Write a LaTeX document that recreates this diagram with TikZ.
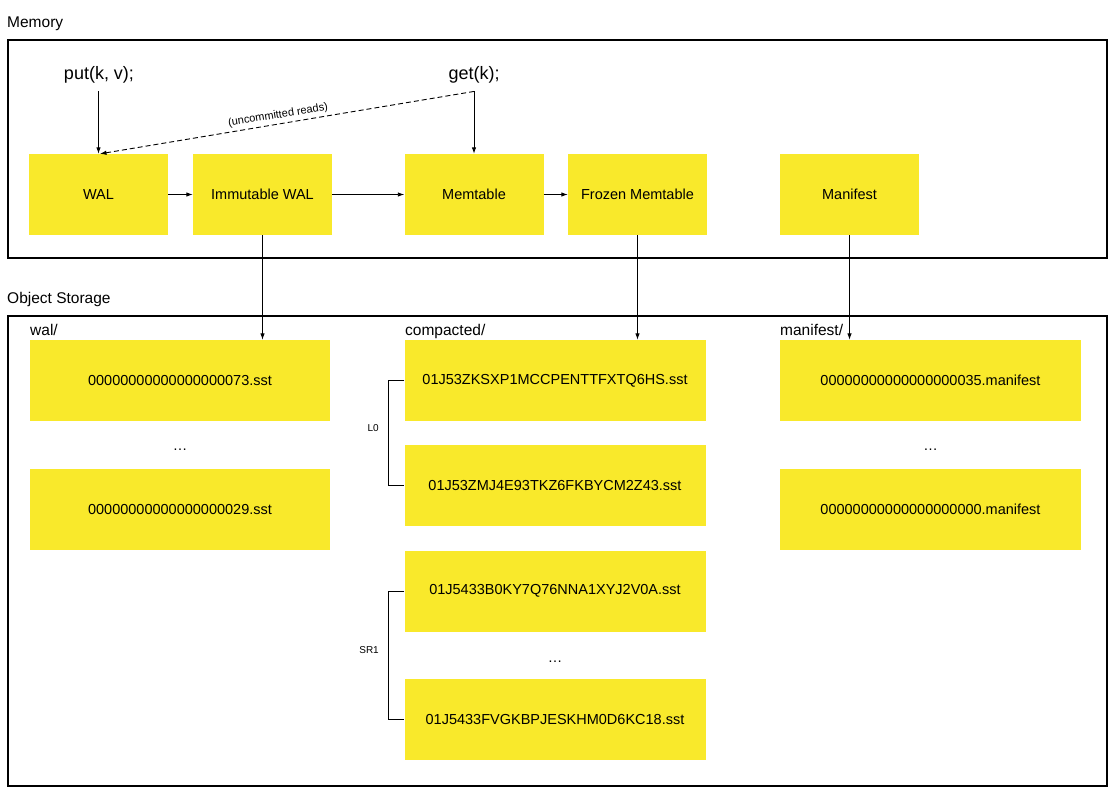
\documentclass[tikz,border=0pt]{standalone}
\usepackage{fontspec}
\setmainfont{Liberation Sans}
\usetikzlibrary{arrows.meta,positioning}
\definecolor{boxyellow}{RGB}{249,233,43}
\begin{document}
\begin{tikzpicture}[x=1pt,y=-1pt,
  box/.style={fill=boxyellow, draw=none, inner sep=0pt, minimum height=81pt,
    font=\fontsize{14.5}{17}\selectfont},
  smallbox/.style={box, minimum width=139pt},
  widebox/.style={box, minimum width=300pt},
  region/.style={draw=black, line width=1.1pt},
  title/.style={anchor=base west, inner sep=0pt, font=\fontsize{15.5}{18}\selectfont},
  call/.style={anchor=base, inner xsep=0pt, inner ysep=8.5pt, font=\fontsize{18}{21}\selectfont},
  tiny/.style={inner sep=0pt, font=\fontsize{10}{12}\selectfont},
  dots/.style={anchor=base, inner sep=0pt, font=\fontsize{14.5}{17}\selectfont},
  arr/.style={-{Latex[length=6.5pt,width=4.5pt]}, line width=0.9pt},
  brace/.style={line width=0.9pt}
]
\useasboundingbox (0,0) rectangle (1115,793);

% Regions
\node[title] (memlabel) at (7,27) {Memory};
\draw[region] (8,40) rectangle (1107,258);
\node[title] (objlabel) at (7,303) {Object Storage};
\draw[region] (8,316) rectangle (1107,786);

% Calls
\node[call] (put) at (99,79) {put(k, v);};
\node[call] (get) at (474,79) {get(k);};

% Memory boxes
\node[smallbox] (wal) at (98.5,194.5) {WAL};
\node[smallbox] (imm) at (262.5,194.5) {Immutable WAL};
\node[smallbox] (mem) at (474,194.5) {Memtable};
\node[smallbox] (frozen) at (637.5,194.5) {Frozen Memtable};
\node[smallbox] (man) at (849.5,194.5) {Manifest};

% Storage folder labels
\node[title] (wallabel) at (30,335) {wal/};
\node[title] (complabel) at (405,335) {compacted/};
\node[title] (manlabel) at (780,335) {manifest/};

% Storage boxes
\node[widebox] (w1) at (180,380.5) {00000000000000000073.sst};
\node[dots] (wdots) at (180,450) {…};
\node[widebox] (w2) at (180,509.5) {00000000000000000029.sst};

\node[widebox, minimum width=301pt] (c1) at (555,380.5) {01J53ZKSXP1MCCPENTTFXTQ6HS.sst};
\node[widebox, minimum width=301pt] (c2) at (555,485.5) {01J53ZMJ4E93TKZ6FKBYCM2Z43.sst};
\node[widebox, minimum width=301pt] (c3) at (555,591) {01J5433B0KY7Q76NNA1XYJ2V0A.sst};
\node[dots] (cdots) at (555,662) {…};
\node[widebox, minimum width=301pt] (c4) at (555,719.5) {01J5433FVGKBPJESKHM0D6KC18.sst};

\node[widebox, minimum width=301pt] (m1) at (930.5,380.5) {00000000000000000035.manifest};
\node[dots] (mdots) at (930.5,450) {…};
\node[widebox, minimum width=301pt] (m2) at (930.5,509.5) {00000000000000000000.manifest};

% Arrows in memory
\draw[arr] (wal.north |- put.south) -- (wal.north);
\draw[arr] (mem.north |- get.south) -- (mem.north);
\draw[arr, dashed, dash pattern=on 5pt off 3pt] (mem.north |- get.south) -- ([xshift=1.5pt]wal.north)
  node[pos=0.52, sloped, above, tiny, font=\fontsize{11}{13}\selectfont, inner sep=3pt] (uncl) {(uncommitted reads)};
\draw[arr] (wal) -- (imm);
\draw[arr] (imm) -- (mem);
\draw[arr] (mem) -- (frozen);

% Arrows to storage
\draw[arr] (imm.south) -- (imm.south |- w1.north);
\draw[arr] (frozen.south) -- (frozen.south |- c1.north);
\draw[arr] (man.south) -- (man.south |- m1.north);

% Brackets
\draw[brace] (c1.west) -- ++(-16,0) |- (c2.west);
\node[tiny, anchor=east] (l0) at (379,428) {L0};
\draw[brace] (c3.west) -- ++(-16,0) |- (c4.west);
\node[tiny, anchor=east] (sr1) at (379,650) {SR1};
\end{tikzpicture}
\end{document}
